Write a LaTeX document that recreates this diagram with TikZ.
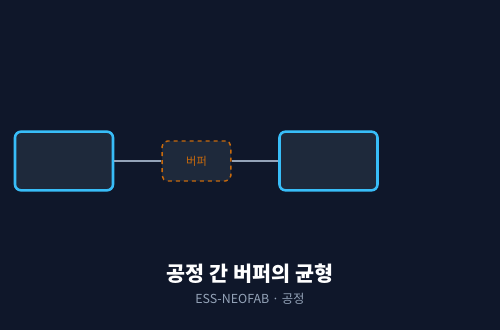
\documentclass[tikz,border=0pt]{standalone}
\usepackage{fontspec}
\setmainfont{Noto Sans CJK KR}
\usepackage{tikz}
\usetikzlibrary{positioning, calc, backgrounds}
\definecolor{bgNavy}{HTML}{0F172A}
\definecolor{boxFill}{HTML}{1E293B}
\definecolor{skyEdge}{HTML}{38BDF8}
\definecolor{amberEdge}{HTML}{C96A0C}
\definecolor{wireGray}{HTML}{94A3B8}

\begin{document}
\begin{tikzpicture}[
    x=0.75pt, y=-0.75pt,
    proc/.style={draw=skyEdge, fill=boxFill, line width=1.9pt, rounded corners=4.5pt,
      minimum width=73.5pt, minimum height=44pt, inner sep=0pt},
    buf/.style={draw=amberEdge, fill=boxFill, line width=1.1pt, dashed, rounded corners=4pt,
      minimum width=51.5pt, minimum height=30pt, inner sep=0pt,
      text=amberEdge, font=\fontsize{8.4}{10}\selectfont},
    wire/.style={draw=wireGray, line width=1.4pt},
  ]
    \fill[bgNavy] (0,0) rectangle (500,330);
    \useasboundingbox (0,0) rectangle (500,330);
    % process boxes
    \node[proc] (procA) at (64,161) {};
    \node[proc] (procB) at (328.5,161) {};
    % buffer between the two
    \node[buf] (buffer) at (196.5,161) {버퍼};
    \draw[wire] (procA.east) -- (buffer.west);
    \draw[wire] (buffer.east) -- (procB.west);
    % caption
    \node[text=white, font=\fontsize{15.5}{18}\bfseries] (title) at (250,274) {공정 간 버퍼의 균형};
    \node[text=wireGray, font=\fontsize{9.3}{11}\selectfont] (subtitle) at (250,299) {ESS-NEOFAB · 공정};
  \end{tikzpicture}
\end{document}
